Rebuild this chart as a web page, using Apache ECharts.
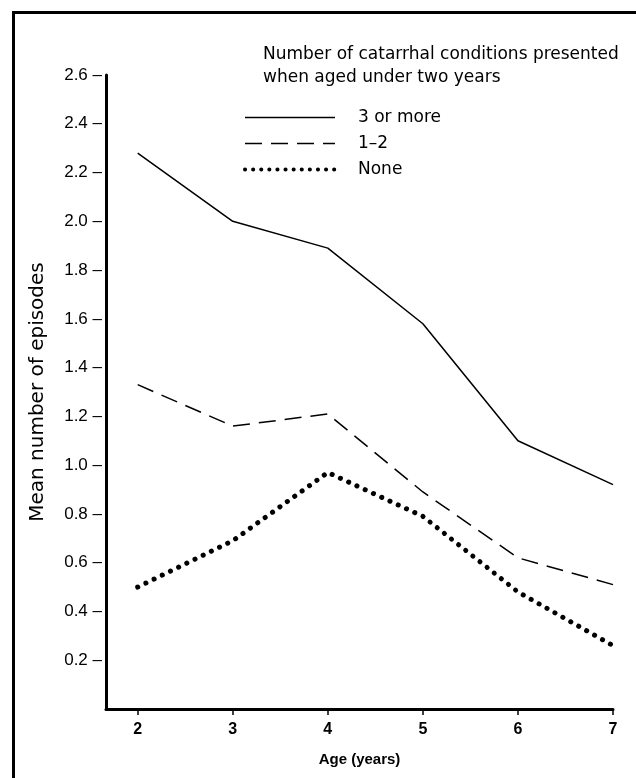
<!DOCTYPE html>
<html>
<head>
<meta charset="utf-8">
<script src="https://cdn.jsdelivr.net/npm/echarts@6/dist/echarts.min.js"></script>
<style>
  html, body { margin: 0; padding: 0; background: #fff; }
  #chart { width: 636px; height: 778px; }
</style>
</head>
<body>
<div id="chart"></div>
<script>
var chart = echarts.init(document.getElementById('chart'));

// ages on the x axis
var ages = [2, 3, 4, 5, 6, 7];
// mean number of episodes, by catarrhal conditions under two years
var threeOrMore = [2.28, 2.0, 1.89, 1.58, 1.10, 0.92];
var oneToTwo = [1.33, 1.16, 1.21, 0.89, 0.62, 0.51];
var none = [0.50, 0.69, 0.97, 0.79, 0.48, 0.26];
var seriesNames = ['3 or more', '1\u20132', 'None'];

function pairs(vals) {
    var out = [];
    for (var i = 0; i < ages.length; i++) {
        out.push([ages[i], vals[i]]);
    }
    return out;
}

var font = 'Liberation Sans, Arial, Helvetica, sans-serif';
var wide = 'DejaVu Sans, sans-serif';

var solidStyle = { color: '#000', width: 1.5, type: 'solid' };
var dashStyle = { color: '#000', width: 1.5, type: [17, 9] };
var dotStyle = { color: '#000', width: 5, type: [0.1, 9], cap: 'round' };

var option = {
    animation: false,
    backgroundColor: '#fff',
    textStyle: { fontFamily: font, color: '#000' },
    grid: { left: 106, right: 23, top: 75, bottom: 69 },
    graphic: [
        // frame round the figure
        { type: 'rect', left: 11, top: 10, shape: { width: 700, height: 800 },
          style: { fill: 'none', stroke: '#000', lineWidth: 3 } },
        { type: 'text', left: 263, top: 43,
          style: { text: 'Number of catarrhal conditions presented\nwhen aged under two years',
                   font: '17px ' + wide, fill: '#000', lineHeight: 23 } }
    ],
    legend: {
        orient: 'vertical',
        left: 238,
        top: 104,
        itemWidth: 90,
        itemHeight: 14,
        itemGap: 9,
        itemStyle: { opacity: 0 },
        data: [
            { name: seriesNames[0], lineStyle: solidStyle },
            { name: seriesNames[1], lineStyle: dashStyle },
            { name: seriesNames[2], lineStyle: { color: '#000', width: 4, type: [0.1, 8], cap: 'round' } }
        ],
        textStyle: { fontSize: 17, fontFamily: wide, color: '#000', padding: [0, 0, 0, 18] }
    },
    xAxis: {
        type: 'value',
        min: 5 / 3,
        max: 7,
        interval: 1,
        name: 'Age (years)',
        nameLocation: 'middle',
        nameGap: 43,
        nameTextStyle: { fontSize: 15, fontWeight: 'bold', fontFamily: font, color: '#000' },
        splitLine: { show: false },
        axisLine: { lineStyle: { color: '#000', width: 3 } },
        axisTick: { show: true, length: 6, lineStyle: { color: '#000', width: 1.5 },
                    customValues: ages },
        axisLabel: { fontSize: 16, fontWeight: 'bold', color: '#000', margin: 13,
                     customValues: ages, fontFamily: font }
    },
    yAxis: {
        type: 'value',
        min: 0,
        max: 2.6,
        interval: 0.2,
        name: 'Mean number of episodes',
        nameLocation: 'middle',
        nameGap: 58,
        nameTextStyle: { fontSize: 20, fontFamily: wide, color: '#000' },
        splitLine: { show: false },
        axisLine: { show: true, lineStyle: { color: '#000', width: 3 } },
        axisTick: { show: false },
        axisLabel: {
            fontSize: 17, color: '#000', margin: 4, fontFamily: font,
            formatter: function (v) {
                if (v < 0.1) return '';
                return v.toFixed(1) + ' \u2013';
            }
        }
    },
    series: [
        {
            name: seriesNames[0], type: 'line', symbol: 'none',
            lineStyle: solidStyle,
            itemStyle: { color: '#000' },
            data: pairs(threeOrMore)
        },
        {
            name: seriesNames[1], type: 'line', symbol: 'none',
            lineStyle: dashStyle,
            itemStyle: { color: '#000' },
            data: pairs(oneToTwo)
        },
        {
            name: seriesNames[2], type: 'line', symbol: 'none',
            lineStyle: dotStyle,
            itemStyle: { color: '#000' },
            data: pairs(none)
        }
    ]
};
chart.setOption(option);
</script>
</body>
</html>
